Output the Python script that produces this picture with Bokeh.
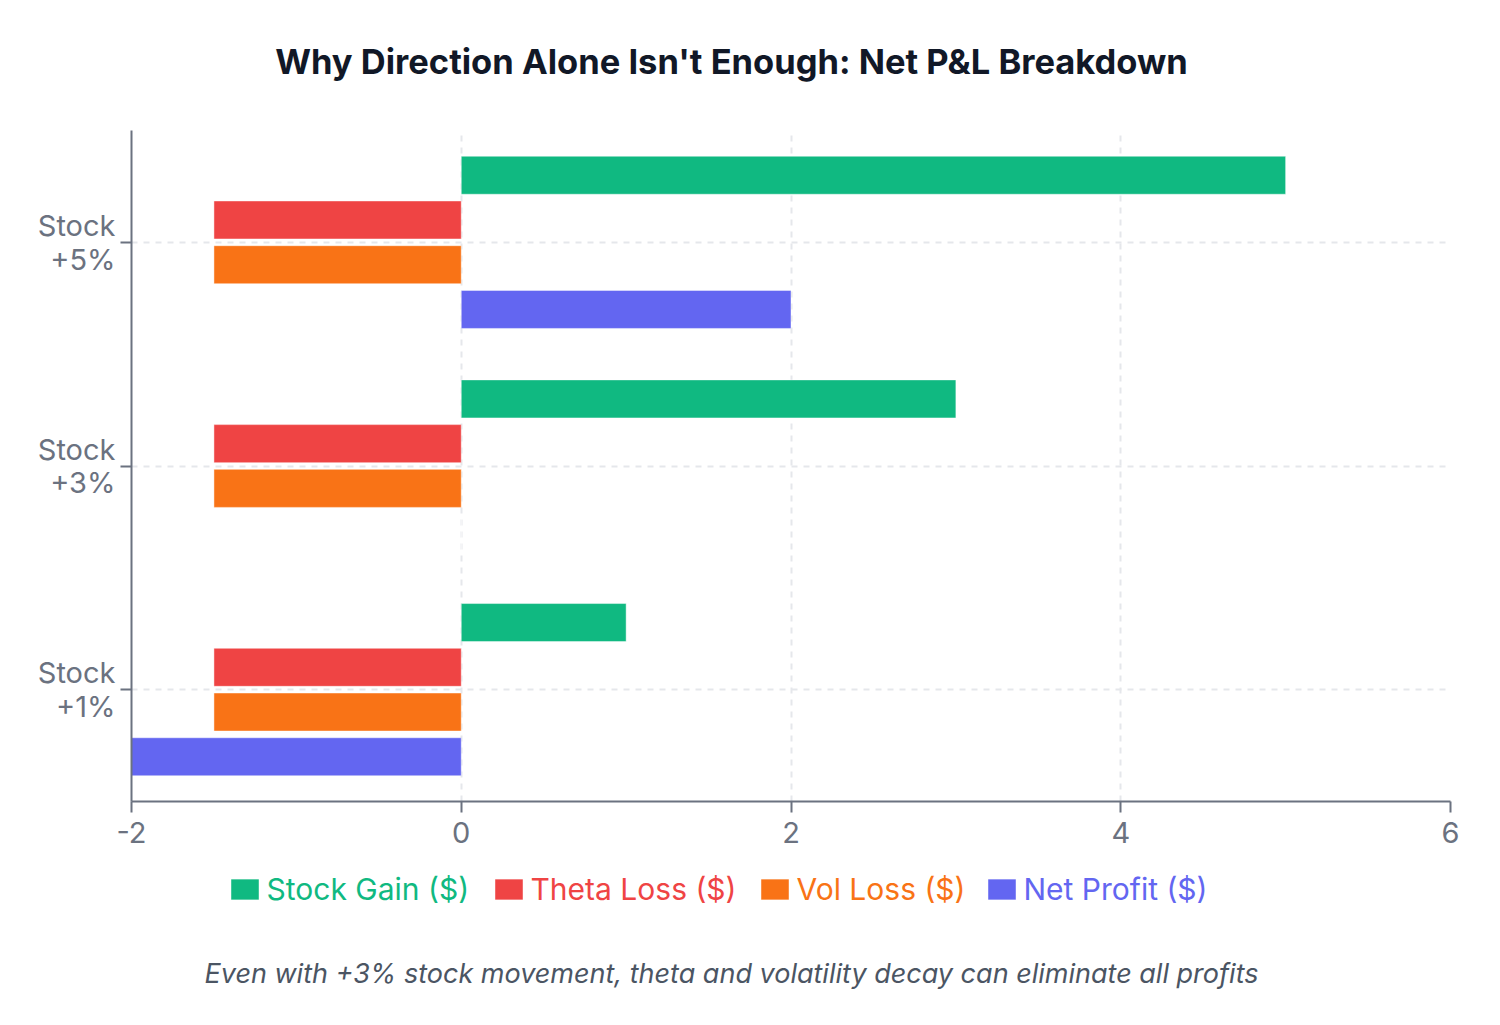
from bokeh.plotting import figure
from bokeh.models import (Range1d, FixedTicker, Label, Legend, LegendItem)
from bokeh.layouts import column
from bokeh.embed import file_html
from bokeh.resources import INLINE

# ---- data ----
categories = ["Stock\n+5%", "Stock\n+3%", "Stock\n+1%"]
series_names = ["Stock Gain ($)", "Theta Loss ($)", "Vol Loss ($)", "Net Profit ($)"]
stock_gain = [5, 3, 1]
theta_loss = [-1.5, -1.5, -1.5]
vol_loss = [-1.5, -1.5, -1.5]
net_profit = [2, 0, -2]
x_ticks = [-2, 0, 2, 4, 6]
x_tick_labels = ["-2", "0", "2", "4", "6"]
title_text = "Why Direction Alone Isn't Enough: Net P&L Breakdown"
subtitle_text = "Even with +3% stock movement, theta and volatility decay can eliminate all profits"

colors = ["#10b981", "#ef4444", "#f97316", "#6366f1"]
series = [stock_gain, theta_loss, vol_loss, net_profit]
offsets = [0.3, 0.1, -0.1, -0.3]
FONT = "Inter"
AXIS = "#6b7280"
GRID = "#e5e7eb"

n = len(categories)
centers = [n - i - 0.5 for i in range(n)]  # top category first

W = 1492
FRAME_L, FRAME_R = 131, 1450
HEAD_H = 130
MAIN_H = 730
FOOT_H = 157
TOTAL_H = HEAD_H + MAIN_H + FOOT_H


def blank(h):
    # frames in a column are aligned with the main chart's frame,
    # so map data x directly onto page pixels
    f = figure(width=W, height=h, output_backend="svg", toolbar_location=None,
               x_range=Range1d(FRAME_L, FRAME_R), y_range=Range1d(0, h),
               x_axis_type=None, y_axis_type=None, min_border=0,
               min_border_left=FRAME_L, min_border_right=W - FRAME_R)
    f.outline_line_color = None
    f.grid.visible = False
    return f


# ---- header (title) ----
head = blank(HEAD_H)
head.add_layout(Label(x=731, y=HEAD_H - 61, text=title_text,
                      text_align="center", text_baseline="middle",
                      text_font=FONT, text_font_style="bold", text_font_size="34.5px",
                      text_color="#111827"))

# ---- main chart ----
p = figure(width=W, height=MAIN_H, output_backend="svg", toolbar_location=None,
           x_range=Range1d(-2, 6), y_range=Range1d(0, n),
           min_border_left=FRAME_L, min_border_right=W - FRAME_R,
           min_border_top=0, min_border_bottom=MAIN_H - (801 - HEAD_H))
p.outline_line_color = None

for vals, col, off in zip(series, colors, offsets):
    ys = [c + off for c in centers]
    p.hbar(y=ys, left=[0] * n, right=vals, height=0.17,
           fill_color=col, line_color="white", line_alpha=0.45, line_width=1)

p.xaxis.ticker = FixedTicker(ticks=x_ticks)
p.xaxis.major_label_overrides = {t: s for t, s in zip(x_ticks, x_tick_labels)}
p.yaxis.ticker = FixedTicker(ticks=centers)
p.yaxis.major_label_overrides = {c: lab for c, lab in zip(centers, categories)}
for ax in (p.xaxis[0], p.yaxis[0]):
    ax.axis_line_color = AXIS
    ax.axis_line_width = 2
    ax.major_tick_line_color = AXIS
    ax.major_tick_line_width = 2
    ax.major_tick_in = 0
    ax.minor_tick_line_color = None
    ax.major_label_text_font = FONT
    ax.major_label_text_font_size = "29px"
    ax.major_label_text_color = AXIS
p.xaxis.major_tick_out = 11
p.xaxis.major_label_standoff = 9
p.yaxis.major_tick_out = 11
p.yaxis.major_label_standoff = 5
p.yaxis.major_label_text_line_height = 0.97

p.xgrid.ticker = FixedTicker(ticks=x_ticks)
p.ygrid.ticker = FixedTicker(ticks=centers + [n])
for g in (p.xgrid[0], p.ygrid[0]):
    g.grid_line_color = GRID
    g.grid_line_width = 2
    g.grid_line_dash = "6 6"

# ---- footer (legend + subtitle) ----
foot = blank(FOOT_H)
legend_x = [230, 494, 760, 987]
GW, GH = 35, 26  # legend draws area swatches at 80% of the glyph box
for name, col, lx in zip(series_names, colors, legend_x):
    # swatch renderer placed outside the visible range; only its legend glyph shows
    sw = foot.hbar(y=[-1000], left=[0], right=[1], height=1,
                   fill_color=col, line_color="white", line_alpha=0.45, line_width=1)
    lg = Legend(items=[LegendItem(label=name, renderers=[sw])],
                location=(lx - 3.5 - FRAME_L, TOTAL_H - 907), orientation="horizontal",
                glyph_width=GW, glyph_height=GH, label_standoff=5, label_height=GH,
                label_text_font=FONT, label_text_font_size="30px",
                label_text_color=col, label_text_baseline="middle",
                padding=0, margin=0, spacing=0,
                border_line_color=None, background_fill_alpha=0)
    foot.add_layout(lg, "center")

foot.add_layout(Label(x=731, y=TOTAL_H - 973, text=subtitle_text,
                      text_align="center", text_baseline="middle",
                      text_font=FONT, text_font_style="italic", text_font_size="27px",
                      text_color="#4b5563"))

layout = column(head, p, foot, spacing=0)
open("out.html", "w").write(file_html(layout, INLINE))
